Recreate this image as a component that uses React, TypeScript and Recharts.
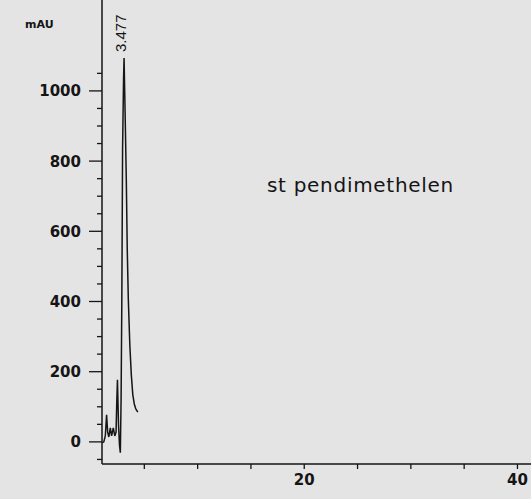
import React from 'react';
import { LineChart, Line, XAxis, YAxis } from 'recharts';

// retention time (min)
const times = [1.04, 1.2, 1.34, 1.46, 1.56, 1.67, 1.81, 1.93, 2.09, 2.23, 2.35, 2.42, 2.48, 2.58, 2.67, 2.75, 2.82, 2.89, 2.96, 3.05, 3.1, 3.21, 3.31, 3.4, 3.5, 3.64, 3.78, 3.92, 4.06, 4.2, 4.39];
// absorbance (mAU)
const signal = [-3, 0, 17, 77, 28, 14, 40, 17, 40, 17, 28, 120, 177, 48, -9, -31, 120, 405, 832, 1031, 1094, 917, 746, 547, 405, 276, 191, 134, 108, 94, 85];

const xTicks = [5, 10, 15, 20, 25, 30, 35, 40];
const xLabelTicks = [20, 40];
const yTicks = [-50, 0, 50, 100, 150, 200, 250, 300, 350, 400, 450, 500, 550, 600, 650, 700, 750, 800, 850, 900, 950, 1000, 1050];
const yLabelTicks = [0, 200, 400, 600, 800, 1000];

const yUnit = 'mAU';
const peakLabel = '3.477';
const sampleName = 'st pendimethelen';

const data = times.map((t, i) => ({ t, v: signal[i] }));

const INK = '#151515';

const YTick = (props: any) => {
  const { x, y, payload } = props;
  const major = yLabelTicks.includes(payload.value);
  return (
    <g>
      <line x1={major ? x - 13 : x - 5} x2={x} y1={y} y2={y} stroke={INK} strokeWidth={1.3} />
      {major && (
        <text x={x - 21} y={y} dy={5.5} textAnchor="end" fontFamily="DejaVu Sans" fontWeight="bold" fontSize={15} fill={INK}>
          {payload.value}
        </text>
      )}
    </g>
  );
};

const XTick = (props: any) => {
  const { x, y, payload } = props;
  const major = xLabelTicks.includes(payload.value);
  return (
    <g>
      <line x1={x} x2={x} y1={y} y2={y + 5} stroke={INK} strokeWidth={1.3} />
      {major && (
        <text x={x} y={y + 21} textAnchor="middle" fontFamily="DejaVu Sans" fontWeight="bold" fontSize={15} fill={INK}>
          {payload.value}
        </text>
      )}
    </g>
  );
};

export default function App() {
  return (
    <div style={{ position: 'absolute', left: 0, top: 0, width: 531, height: 499, background: '#e4e4e4' }}>
      <LineChart width={531} height={499} data={data} margin={{ top: 0, right: 0, left: 0, bottom: 0 }}>
        <XAxis
          type="number"
          dataKey="t"
          domain={[1.03, 41.27]}
          ticks={xTicks}
          height={35}
          tickSize={0}
          tickMargin={0}
          tickLine={false}
          tick={<XTick />}
          axisLine={{ stroke: INK, strokeWidth: 1.5 }}
          allowDataOverflow
        />
        <YAxis
          type="number"
          domain={[-63, 1259]}
          ticks={yTicks}
          width={102}
          tickSize={0}
          tickMargin={0}
          tickLine={false}
          tick={<YTick />}
          axisLine={{ stroke: INK, strokeWidth: 1.5 }}
          interval={0}
          allowDataOverflow
        />
        <Line type="linear" dataKey="v" stroke={INK} strokeWidth={1.5} dot={false} isAnimationActive={false} />
        <text x={25} y={28} fontFamily="DejaVu Sans" fontWeight="bold" fontSize={11} fill={INK}>
          {yUnit}
        </text>
        <text transform="translate(126,52) rotate(-90)" fontFamily="Liberation Sans" fontSize={15} fill={INK}>
          {peakLabel}
        </text>
        <text x={267} y={192} fontFamily="DejaVu Sans" fontSize={20} letterSpacing={0.7} fill={INK}>
          {sampleName}
        </text>
      </LineChart>
    </div>
  );
}
